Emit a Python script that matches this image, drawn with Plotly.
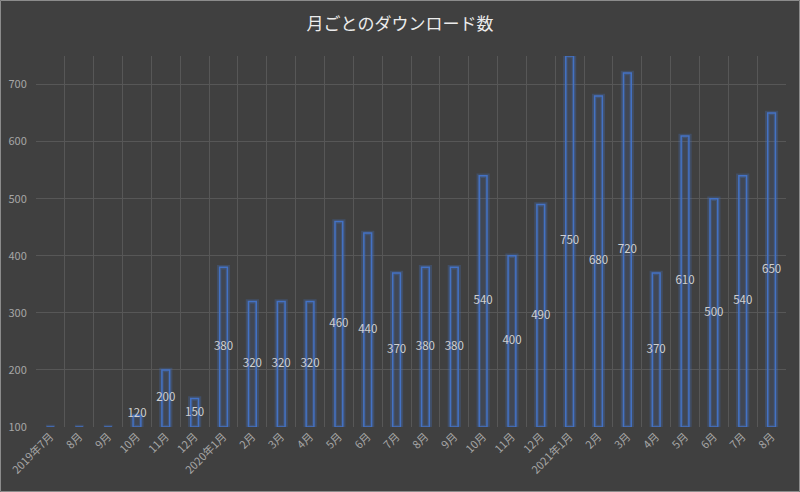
import plotly.graph_objects as go

# 月ごとのダウンロード数 (2019年7月〜2021年8月)
months = ["2019-07", "2019-08", "2019-09", "2019-10", "2019-11", "2019-12",
          "2020-01", "2020-02", "2020-03", "2020-04", "2020-05", "2020-06",
          "2020-07", "2020-08", "2020-09", "2020-10", "2020-11", "2020-12",
          "2021-01", "2021-02", "2021-03", "2021-04", "2021-05", "2021-06",
          "2021-07", "2021-08"]
month_labels = ["2019年7月", "8月", "9月", "10月", "11月", "12月",
                "2020年1月", "2月", "3月", "4月", "5月", "6月",
                "7月", "8月", "9月", "10月", "11月", "12月",
                "2021年1月", "2月", "3月", "4月", "5月", "6月",
                "7月", "8月"]
downloads = [100, 100, 100, 120, 200, 150,
             380, 320, 320, 320, 460, 440,
             370, 380, 380, 540, 400, 490,
             750, 680, 720, 370, 610, 500,
             540, 650]

axis_min = 100
bg = "#404040"
grid = "#575757"
blue = "#4472C4"
font = "Noto Sans CJK JP"

heights = [v - axis_min for v in downloads]
# label in the middle of the bar, kept clear of the axis like Excel does
label_y = [max((v + axis_min) / 2, axis_min + 22) for v in downloads]
label_txt = [str(v) if v > axis_min else "" for v in downloads]

fig = go.Figure()

# glow behind the bars
fig.add_trace(go.Bar(
    x=months, y=heights, base=axis_min, width=0.3,
    marker=dict(color="rgba(0,0,0,0)",
                line=dict(color="rgba(68,114,196,0.28)", width=4.5)),
    hoverinfo="skip", showlegend=False,
))
fig.add_trace(go.Bar(
    x=months, y=heights, base=axis_min, width=0.27,
    marker=dict(color="rgba(68,114,196,0.14)",
                line=dict(color=blue, width=1.5)),
    customdata=downloads,
    hovertemplate="%{customdata}<extra></extra>",
    showlegend=False,
))
fig.add_trace(go.Scatter(
    x=months, y=label_y, mode="text", text=label_txt,
    textfont=dict(family=font, size=11.5, color="#d0d0d0"),
    hoverinfo="skip", showlegend=False,
))

fig.update_layout(
    width=800, height=492,
    paper_bgcolor=bg, plot_bgcolor=bg,
    barmode="overlay",
    margin=dict(l=36, r=14, t=56, b=65),
    title=dict(text="月ごとのダウンロード数", x=0.5, xanchor="center",
               y=0.951, yanchor="middle",
               font=dict(family=font, size=17, color="#ececec")),
    font=dict(family=font, color="#a6a6a6"),
    xaxis=dict(type="category", tickvals=months, ticktext=month_labels,
               range=[-0.5, len(months) - 0.5],
               tickangle=-45, tickson="boundaries", showgrid=True,
               gridcolor=grid, gridwidth=1, ticks="outside", ticklen=5,
               tickcolor=bg, showline=False, automargin=False, zeroline=False,
               tickfont=dict(family=font, size=11, color="#a6a6a6")),
    yaxis=dict(range=[axis_min, 750], dtick=100, showgrid=True,
               gridcolor=grid, gridwidth=1, zeroline=False, showline=False,
               ticks="outside", ticklen=6, tickcolor=bg, automargin=False,
               tickfont=dict(family=font, size=11, color="#a6a6a6")),
    shapes=[dict(type="rect", xref="paper", yref="paper",
                 x0=-35.5 / 750, x1=1 + 13.5 / 750, y0=-64.5 / 371, y1=1 + 55.5 / 371,
                 line=dict(color="#8c8c8c", width=1), layer="above")],
)

fig.write_html("out.html", config={"displayModeBar": False},
               post_script="document.body.style.margin='0';"
                           "document.body.style.background='#404040';")
